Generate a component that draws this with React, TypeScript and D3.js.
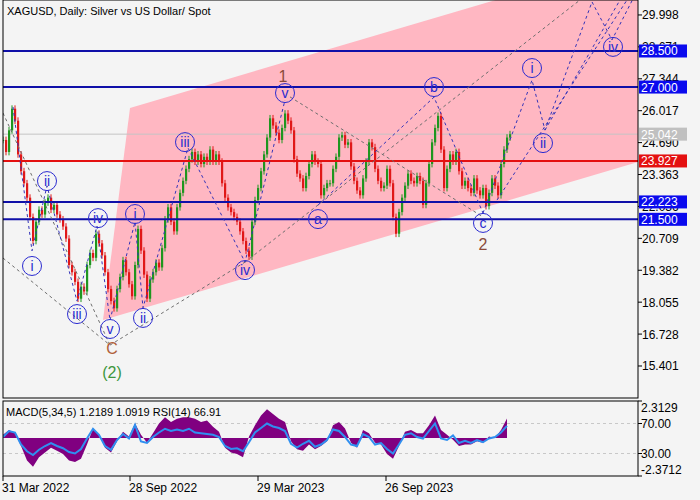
import * as d3 from "d3";

const W = 700;
const H = 500;
const MAIN = { left: 3, right: 638, top: 0, bottom: 398 };
const SUB = { top: 401, bottom: 476 };

const SYMBOL_TITLE = "XAGUSD, Daily:  Silver vs US Dollar/ Spot";
const INDICATOR_TITLE = "MACD(5,34,5) 1.2189 1.0919 RSI(14) 66.91";

// closes, one every 3 daily bars (31 Mar 2022 -> Mar 2024)
const BAR_STEP = 3;
const CLOSES = [
  24.8, 24.3, 25.2, 26.1, 25.6, 24.2, 23.5, 23.0, 22.4, 21.6, 20.6, 21.4, 21.9, 21.7, 22.2, 22.4,
  21.9, 22.1, 21.7, 21.5, 21.2, 20.7, 19.6, 19.3, 18.9, 18.2, 18.7, 18.5, 19.6, 20.1, 19.9, 20.9,
  20.5, 20.0, 19.3, 18.6, 18.1, 17.8, 18.6, 19.1, 19.8, 19.3, 18.8, 18.3, 19.6, 21.1, 20.2, 19.2,
  18.2, 19.0, 19.3, 19.7, 19.5, 20.3, 21.5, 22.0, 21.4, 21.0, 22.0, 22.6, 23.1, 23.6, 24.0, 24.3,
  23.9, 24.2, 23.8, 24.1, 23.9, 24.4, 23.9, 24.2, 23.9, 23.0, 22.4, 22.0, 21.8, 21.6, 21.4, 21.0,
  20.6, 20.2, 19.95, 21.4, 22.3, 22.8, 23.5, 24.2, 24.9, 25.7, 25.4, 25.1, 24.8, 25.3, 25.9, 25.6,
  25.2, 24.0, 23.4, 23.2, 22.8, 23.3, 23.8, 24.2, 23.9, 23.8, 22.5, 22.8, 23.0, 23.0, 23.6, 24.1,
  24.9, 25.0, 24.6, 24.7, 23.7, 23.1, 22.7, 22.5, 23.2, 23.9, 24.7, 24.5, 23.6, 23.1, 22.8, 22.9,
  23.6, 23.0, 21.6, 20.9, 21.8, 22.4, 22.9, 23.4, 23.1, 23.0, 23.3, 23.1, 22.1, 23.0, 23.8, 24.7,
  25.3, 25.8, 24.4, 22.8, 23.6, 24.2, 23.9, 24.3, 23.5, 22.9, 23.1, 22.8, 22.6, 23.2, 22.7, 22.5,
  22.8, 22.05, 22.6, 23.2, 22.9, 22.5, 23.8, 24.4, 24.9, 25.04,
];

// indicator readings, one every 6 daily bars
const IND_STEP = 6;
const MACD = [
  0.2, 0.5, 0.3, -0.5, -1.4, -1.8, -1.2, -0.9, -0.6, -0.8, -1.0, -1.4, -1.5, -1.3, -0.4, 0.6,
  0.2, -0.6, -0.9, -0.2, 0.4, 0.1, 0.9, 0.2, -0.3, 0.3, 0.9, 1.3, 1.0, 1.2, 1.3, 1.3,
  1.2, 1.0, 1.1, 0.7, 0.4, -0.6, -0.9, -1.0, -1.2, 0.1, 0.8, 1.4, 1.8, 1.5, 1.2, 1.0,
  -0.2, -0.7, -0.8, -0.4, -0.7, -0.5, -0.2, 0.8, 1.0, 0.6, -0.3, -0.6, 0.5, 0.3, -0.3, -0.4,
  -1.0, -1.3, -0.5, 0.4, 0.5, 0.3, 0.3, 0.8, 1.4, 0.5, 0.2, -0.1, -0.5, -0.4, -0.4, -0.2,
  -0.3, 0.1, 0.0, 0.5, 1.22,
];
const RSI = [
  52, 60, 58, 42, 33, 28, 35, 40, 44, 40, 37, 32, 30, 36, 50, 63,
  55, 40, 35, 48, 56, 50, 68, 46, 44, 52, 58, 63, 60, 62, 60, 63,
  58, 57, 56, 55, 52, 40, 36, 37, 33, 45, 58, 64, 70, 66, 64, 60,
  43, 38, 43, 47, 39, 42, 48, 62, 60, 52, 42, 40, 56, 52, 42, 44,
  36, 30, 42, 55, 57, 52, 50, 60, 70, 50, 48, 54, 44, 47, 44, 48,
  45, 50, 52, 58, 66.91,
];

const PRICE_TICKS = [15.401, 16.728, 18.055, 19.382, 20.709, 22.036, 23.363, 24.69, 26.017, 27.344, 28.671, 29.998];
const DATE_TICKS = [
  { bar: 0, label: "31 Mar 2022" },
  { bar: 127, label: "28 Sep 2022" },
  { bar: 255, label: "29 Mar 2023" },
  { bar: 383, label: "26 Sep 2023" },
];
const BLUE_LEVELS = [28.5, 27.0, 22.223, 21.5];
const RED_LEVEL = 23.927;
const LAST_PRICE = 25.042;

// rising channel (bar, price)
const CHANNEL_LOWER = [[100, 17.31], [635, 23.88]];
const CHANNEL_UPPER_START = [127, 26.13];

// wave lines: [bar, price] points
const MINOR_WAVES = [
  [[10, 26.17], [29, 20.19], [44, 22.89], [74, 18.1], [94, 21.22], [107, 17.31]],
  [[107, 17.31], [132, 21.39], [140, 17.82], [185, 24.47], [242, 19.72], [282, 26.46]],
  [[315, 22.09], [431, 26.58], [480, 21.76]],
  [[480, 21.76], [529, 27.29], [542, 25.21], [589, 30.54], [609, 28.96], [637, 31.24]],
  [[494, 22.3], [624, 30.62]],
  [[542, 25.21], [617, 30.62]],
];
const MAJOR_WAVES = [
  [[0, 19.89], [107, 16.27]],
  [[0, 25.92], [107, 16.27]],
  [[107, 16.27], [242, 19.72]],
  [[242, 19.72], [577, 30.62]],
  [[287, 26.59], [480, 21.6]],
];

const CIRCLE_LABELS = [
  { bar: 29, price: 19.56, text: "i" },
  { bar: 44, price: 23.09, text: "ii" },
  { bar: 74, price: 17.56, text: "iii" },
  { bar: 95, price: 21.55, text: "iv" },
  { bar: 107, price: 16.94, text: "v" },
  { bar: 132, price: 21.72, text: "i" },
  { bar: 140, price: 17.4, text: "ii" },
  { bar: 182, price: 24.71, text: "iii" },
  { bar: 242, price: 19.39, text: "iv" },
  { bar: 282, price: 26.75, text: "v" },
  { bar: 315, price: 21.51, text: "a" },
  { bar: 431, price: 27.0, text: "b" },
  { bar: 480, price: 21.35, text: "c" },
  { bar: 529, price: 27.79, text: "i" },
  { bar: 540, price: 24.67, text: "ii" },
  { bar: 610, price: 28.67, text: "iv" },
];
const PLAIN_LABELS = [
  { bar: 109, price: 16.15, text: "C", color: "#b0603a" },
  { bar: 109, price: 15.15, text: "(2)", color: "#3c963c" },
  { bar: 280, price: 27.46, text: "1", color: "#8b4a3a" },
  { bar: 480, price: 20.47, text: "2", color: "#8b4a3a" },
];

const FONT = "Liberation Sans, Arial, sans-serif";
const BLUE_LINE = "#0f0fa8";
const BLUE_BOX = "#0a0aee";
const RED = "#e41010";
const WAVE_BLUE = "#3434b8";
const WAVE_GRAY = "#6e6e6e";

export default function App() {
  const x = d3.scaleLinear().domain([0, 635]).range([MAIN.left, MAIN.right]);
  const y = d3.scaleLinear().domain([14.07, 30.62]).range([MAIN.bottom, MAIN.top]);
  const yMacd = d3.scaleLinear().domain([-2.3712, 2.3129]).range([SUB.bottom, SUB.top]);
  const yRsi = d3.scaleLinear().domain([0, 100]).range([SUB.bottom, SUB.top]);

  const slope = (CHANNEL_LOWER[1][1] - CHANNEL_LOWER[0][1]) / (CHANNEL_LOWER[1][0] - CHANNEL_LOWER[0][0]);
  const upperEnd = [635, CHANNEL_UPPER_START[1] + slope * (635 - CHANNEL_UPPER_START[0])];
  const channelPts = [CHANNEL_UPPER_START, upperEnd, CHANNEL_LOWER[1], CHANNEL_LOWER[0]];
  const channelPath = "M" + channelPts.map((p) => `${x(p[0])},${y(p[1])}`).join("L") + "Z";

  const waveLine = d3.line<number[]>().x((d) => x(d[0])).y((d) => y(d[1]));

  const macdArea = d3
    .area<number>()
    .x((_, i) => x(i * IND_STEP))
    .y0(yMacd(0))
    .y1((d) => yMacd(d));
  const rsiLine = d3
    .line<number>()
    .x((_, i) => x(i * IND_STEP))
    .y((d) => yRsi(d));

  const boxLabel = (v: number, fill: string, txt = "#fff") => (
    <g key={"box" + v}>
      <rect x={MAIN.right + 1} y={y(v) - 6.5} width={48} height={13} fill={fill} />
      <text x={MAIN.right + 3} y={y(v) + 4.5} fontSize={12} fill={txt} fontFamily={FONT}>
        {v.toFixed(3)}
      </text>
    </g>
  );

  return (
    <div style={{ position: "fixed", left: 0, top: 0 }}>
      <svg width={W} height={H} style={{ display: "block" }}>
        <defs>
          <clipPath id="mainClip">
            <rect x={MAIN.left} y={MAIN.top} width={MAIN.right - MAIN.left} height={MAIN.bottom - MAIN.top} />
          </clipPath>
          <clipPath id="subClip">
            <rect x={MAIN.left} y={SUB.top} width={MAIN.right - MAIN.left} height={SUB.bottom - SUB.top} />
          </clipPath>
        </defs>
        <rect width={W} height={H} fill="#f4f4f4" />

        <g clipPath="url(#mainClip)">
          <path d={channelPath} fill="#ffb7c2" />
          <line x1={MAIN.left} x2={MAIN.right} y1={y(LAST_PRICE)} y2={y(LAST_PRICE)} stroke="#c4c4c4" />

          {/* price bars */}
          {CLOSES.map((c, i) => {
            const o = i > 0 ? CLOSES[i - 1] : c;
            const hi = Math.max(o, c);
            const lo = Math.min(o, c);
            const col = c >= o ? "#1f961f" : "#e01818";
            const cx = x(i * BAR_STEP);
            return (
              <g key={"c" + i}>
                <line x1={cx} x2={cx} y1={y(hi + 0.14)} y2={y(lo - 0.14)} stroke={col} strokeWidth={1} />
                <rect x={cx - 1} y={y(hi)} width={2.2} height={Math.max(1, y(lo) - y(hi))} fill={col} />
              </g>
            );
          })}

          {BLUE_LEVELS.map((v) => (
            <line key={"bl" + v} x1={MAIN.left} x2={MAIN.right} y1={y(v)} y2={y(v)} stroke={BLUE_LINE} strokeWidth={2} />
          ))}
          <line x1={MAIN.left} x2={MAIN.right} y1={y(RED_LEVEL)} y2={y(RED_LEVEL)} stroke={RED} strokeWidth={2} />

          {MAJOR_WAVES.map((pts, i) => (
            <path key={"mj" + i} d={waveLine(pts) || ""} fill="none" stroke={WAVE_GRAY} strokeWidth={1} strokeDasharray="3,3" />
          ))}
          {MINOR_WAVES.map((pts, i) => (
            <path key={"mn" + i} d={waveLine(pts) || ""} fill="none" stroke={WAVE_BLUE} strokeWidth={1} strokeDasharray="3,3" />
          ))}

          {CIRCLE_LABELS.map((l, i) => (
            <g key={"cl" + i}>
              <circle cx={x(l.bar)} cy={y(l.price)} r={9.5} fill="none" stroke="#2a2ad0" strokeWidth={1} />
              <text x={x(l.bar)} y={y(l.price) + 5} textAnchor="middle" fontSize={14} fill="#2a2ad0" fontFamily={FONT}>
                {l.text}
              </text>
            </g>
          ))}
          {PLAIN_LABELS.map((l, i) => (
            <text key={"pl" + i} x={x(l.bar)} y={y(l.price) + 6} textAnchor="middle" fontSize={16} fill={l.color} fontFamily={FONT}>
              {l.text}
            </text>
          ))}
        </g>

        <rect x={MAIN.left} y={MAIN.top} width={MAIN.right - MAIN.left} height={MAIN.bottom - MAIN.top} fill="none" stroke="#000" />
        <text x={7} y={15} fontSize={11} fontFamily={FONT} fill="#000">
          {SYMBOL_TITLE}
        </text>

        {/* price axis */}
        {PRICE_TICKS.map((v) => (
          <g key={"pt" + v}>
            <line x1={MAIN.right} x2={MAIN.right + 4} y1={y(v)} y2={y(v)} stroke="#000" />
            <text x={MAIN.right + 4} y={y(v) + 4.5} fontSize={12} fontFamily={FONT} fill="#000">
              {v.toFixed(3)}
            </text>
          </g>
        ))}
        {boxLabel(LAST_PRICE, "#c0c0c0")}
        {BLUE_LEVELS.map((v) => boxLabel(v, BLUE_BOX))}
        {boxLabel(RED_LEVEL, RED)}

        {/* indicator panel */}
        <g clipPath="url(#subClip)">
          {[70, 30].map((v) => (
            <line key={"rl" + v} x1={MAIN.left} x2={MAIN.right} y1={yRsi(v)} y2={yRsi(v)} stroke="#c8c8c8" strokeDasharray="3,3" />
          ))}
          <path d={macdArea(MACD) || ""} fill="#800080" />
          <path d={rsiLine(RSI) || ""} fill="none" stroke="#2f8ff0" strokeWidth={2} />
        </g>
        <rect x={MAIN.left} y={SUB.top} width={MAIN.right - MAIN.left} height={SUB.bottom - SUB.top} fill="none" stroke="#000" />
        <text x={6} y={416} fontSize={11} fontFamily={FONT} fill="#000">
          {INDICATOR_TITLE}
        </text>
        {[
          { yy: yMacd(2.3129), t: "2.3129" },
          { yy: yRsi(70), t: "70.00" },
          { yy: yRsi(30), t: "30.00" },
          { yy: yMacd(-2.3712), t: "-2.3712" },
        ].map((d) => (
          <g key={"st" + d.t}>
            <line x1={MAIN.right} x2={MAIN.right + 4} y1={d.yy} y2={d.yy} stroke="#000" />
            <text x={MAIN.right + 3} y={Math.min(Math.max(d.yy, SUB.top + 6), SUB.bottom - 7) + 4.5} fontSize={12} fontFamily={FONT} fill="#000">
              {d.t}
            </text>
          </g>
        ))}

        {/* time axis */}
        {DATE_TICKS.map((d) => (
          <g key={"dt" + d.bar}>
            <line x1={x(d.bar)} x2={x(d.bar)} y1={SUB.bottom} y2={SUB.bottom + 5} stroke="#000" />
            <text x={x(d.bar) - 1} y={492} fontSize={12} fontFamily={FONT} fill="#000">
              {d.label}
            </text>
          </g>
        ))}
      </svg>
    </div>
  );
}
